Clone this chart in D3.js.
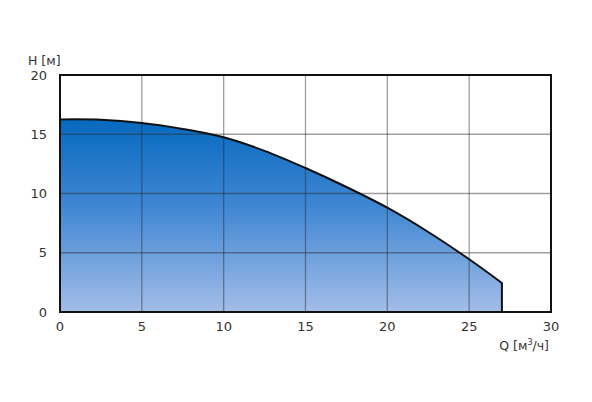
<!DOCTYPE html>
<html><head><meta charset="utf-8">
<script src="https://cdn.jsdelivr.net/npm/d3@7"></script>
<style>body{margin:0;background:#fff}svg{display:block}text{font-family:"DejaVu Sans",Verdana,sans-serif;fill:#333}</style>
</head><body>
<svg id="c" width="592" height="402"></svg>
<script>
const flowQ = [0, 2.5, 5, 7.5, 10, 12.5, 15, 17.5, 20, 22.5, 25, 27];
const headH = [16.25, 16.22, 15.95, 15.45, 14.75, 13.6, 12.15, 10.55, 8.8, 6.75, 4.45, 2.45];
const xTicks = [0, 5, 10, 15, 20, 25, 30];
const yTicks = [0, 5, 10, 15, 20];
const xLabel = "Q [м³/ч]";
const yLabel = "H [м]";

const svg = d3.select("#c");
const x = d3.scaleLinear().domain([0, 30]).range([60, 551]);
const y = d3.scaleLinear().domain([0, 20]).range([312, 75]);

const defs = svg.append("defs");
const g = defs.append("linearGradient").attr("id","gr").attr("x1",0).attr("x2",0)
  .attr("gradientUnits","userSpaceOnUse").attr("y1", y(16.3)).attr("y2", y(0));
g.append("stop").attr("offset","0%").attr("stop-color","#0669be");
g.append("stop").attr("offset","45%").attr("stop-color","#3f86d2");
g.append("stop").attr("offset","100%").attr("stop-color","#a3bde8");

const pts = flowQ.map((q,i)=>[q, headH[i]]);
const area = d3.area().x(d=>x(d[0])).y0(y(0)).y1(d=>y(d[1])).curve(d3.curveCatmullRom);
svg.append("path").datum(pts).attr("d", area).attr("fill","url(#gr)");

// grid
svg.append("g").selectAll("line").data(xTicks.slice(1,-1)).join("line")
  .attr("x1",d=>x(d)).attr("x2",d=>x(d)).attr("y1",y(20)).attr("y2",y(0))
  .attr("stroke","rgba(40,40,40,0.45)").attr("stroke-width",1.3);
svg.append("g").selectAll("line").data(yTicks.slice(1,-1)).join("line")
  .attr("y1",d=>y(d)).attr("y2",d=>y(d)).attr("x1",x(0)).attr("x2",x(30))
  .attr("stroke","rgba(40,40,40,0.45)").attr("stroke-width",1.3);

// curve outline + end vertical
const line = d3.line().x(d=>x(d[0])).y(d=>y(d[1])).curve(d3.curveCatmullRom);
const last = pts[pts.length-1];
svg.append("path").attr("d", line(pts) + "L" + x(last[0]) + "," + y(0))
  .attr("fill","none").attr("stroke","#111").attr("stroke-width",2);

// frame
svg.append("rect").attr("x",x(0)).attr("y",y(20)).attr("width",x(30)-x(0)).attr("height",y(0)-y(20))
  .attr("fill","none").attr("stroke","#111").attr("stroke-width",2);

// tick labels
svg.append("g").selectAll("text").data(xTicks).join("text")
  .attr("x",d=>x(d)).attr("y",331).attr("text-anchor","middle").attr("font-size",13).text(d=>d);
svg.append("g").selectAll("text").data(yTicks).join("text")
  .attr("x",47).attr("y",d=>y(d)+4.5).attr("text-anchor","end").attr("font-size",13).text(d=>d);

svg.append("text").attr("x",28).attr("y",65).attr("font-size",12.5).text(yLabel);
const xl = svg.append("text").attr("x",549).attr("y",350).attr("text-anchor","end").attr("font-size",12.5);
xl.append("tspan").text("Q [м");
xl.append("tspan").attr("font-size",8).attr("dy",-5).text("3");
xl.append("tspan").attr("dy",5).text("/ч]");
</script>
</body></html>
